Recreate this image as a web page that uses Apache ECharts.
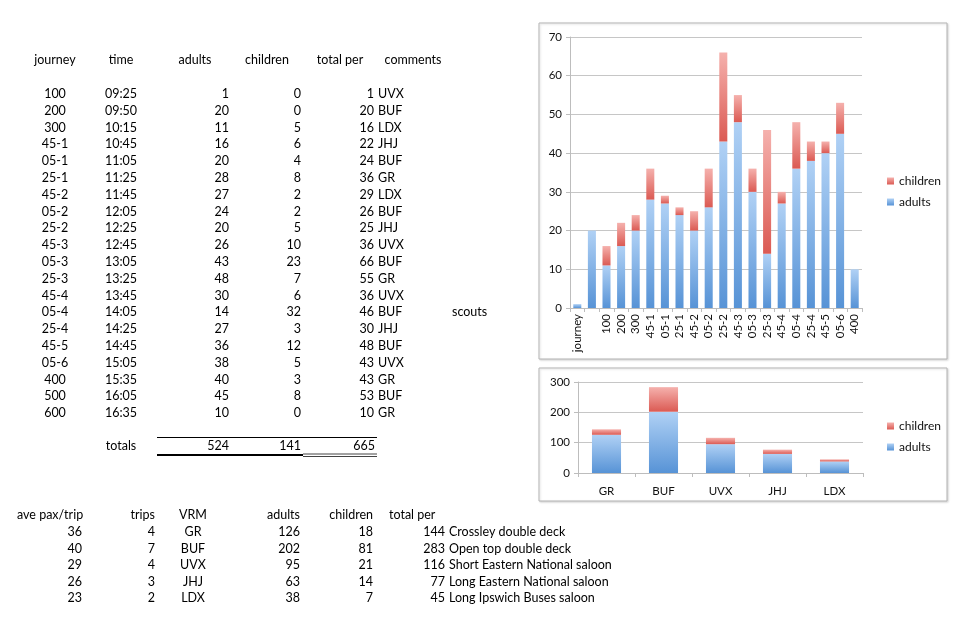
<!DOCTYPE html>
<html>
<head>
<meta charset="utf-8">
<script src="https://cdn.jsdelivr.net/npm/echarts@6/dist/echarts.min.js"></script>
<style>
html,body{margin:0;padding:0;background:#fff;}
#main{width:960px;height:625px;}
</style>
</head>
<body>
<div id="main"></div>
<script>
// ---- table data (journeys) ----
var journeys = ["100","200","300","45-1","05-1","25-1","45-2","05-2","25-2","45-3","05-3","25-3","45-4","05-4","25-4","45-5","05-6","400","500","600"];
var times = ["09:25","09:50","10:15","10:45","11:05","11:25","11:45","12:05","12:25","12:45","13:05","13:25","13:45","14:05","14:25","14:45","15:05","15:35","16:05","16:35"];
var adults = [1,20,11,16,20,28,27,24,20,26,43,48,30,14,27,36,38,40,45,10];
var children = [0,0,5,6,4,8,2,2,5,10,23,7,6,32,3,12,5,3,8,0];
var totalPer = [1,20,16,22,24,36,29,26,25,36,66,55,36,46,30,48,43,43,53,10];
var comments = ["UVX","BUF","LDX","JHJ","BUF","GR","LDX","BUF","JHJ","UVX","BUF","GR","UVX","BUF","JHJ","BUF","UVX","GR","BUF","GR"];
var totals = ["524","141","665"];
var tableHeaders = ["journey","time","adults","children","total per","comments"];

// ---- top chart ----
var chartCategories = ["journey","","100","200","300","45-1","05-1","25-1","45-2","05-2","25-2","45-3","05-3","25-3","45-4","05-4","25-4","45-5","05-6","400"];
var chartAdults = [1,20,11,16,20,28,27,24,20,26,43,48,30,14,27,36,38,40,45,10];
var chartChildren = [0,0,5,6,4,8,2,2,5,10,23,7,6,32,3,12,5,3,8,0];

// ---- summary table / bottom chart ----
var vrm = ["GR","BUF","UVX","JHJ","LDX"];
var avePax = [36,40,29,26,23];
var trips = [4,7,4,3,2];
var vrmAdults = [126,202,95,63,38];
var vrmChildren = [18,81,21,14,7];
var vrmTotal = [144,283,116,77,45];
var vrmDesc = ["Crossley double deck","Open top double deck","Short Eastern National saloon","Long Eastern National saloon","Long Ipswich Buses saloon"];
var summaryHeaders = ["ave pax/trip","trips","VRM","adults","children","total per"];

var FONT = '12.5px Lato';
var TXT = '#000';
function T(text, x, y, align) {
  return {type:'text', z:10, style:{text:String(text), x:x, y:y, font:FONT, fill:TXT, textAlign:align||'left', textVerticalAlign:'middle'}};
}
var g = [];
// frames
g.push({type:'rect', z:0, shape:{x:539,y:23,width:408,height:336}, style:{fill:'#fff', stroke:'#b5b5b5', lineWidth:1, shadowColor:'rgba(0,0,0,0.15)', shadowBlur:2, shadowOffsetX:1, shadowOffsetY:1}});
g.push({type:'rect', z:0, shape:{x:539,y:368,width:408,height:133}, style:{fill:'#fff', stroke:'#b5b5b5', lineWidth:1, shadowColor:'rgba(0,0,0,0.15)', shadowBlur:2, shadowOffsetX:1, shadowOffsetY:1}});

// top table header
var hx = [55,121,195,267,340,413];
tableHeaders.forEach(function(h,i){ g.push(T(h, hx[i], 60, 'center')); });
for (var i=0;i<journeys.length;i++){
  var y = 94 + i*16.8;
  g.push(T(journeys[i],55,y,'center'));
  g.push(T(times[i],121,y,'center'));
  g.push(T(adults[i],229,y,'right'));
  g.push(T(children[i],301,y,'right'));
  g.push(T(totalPer[i],374,y,'right'));
  g.push(T(comments[i],378,y,'left'));
}
// totals
g.push(T('totals',121,446,'center'));
g.push(T(totals[0],229,446,'right'));
g.push(T(totals[1],301,446,'right'));
g.push(T(totals[2],375,446,'right'));
g.push({type:'line', z:10, shape:{x1:157,y1:437.5,x2:377,y2:437.5}, style:{stroke:'#000',lineWidth:1}});
g.push({type:'line', z:10, shape:{x1:157,y1:455,x2:303,y2:455}, style:{stroke:'#000',lineWidth:2}});
g.push({type:'line', z:10, shape:{x1:303,y1:454,x2:377,y2:454}, style:{stroke:'#444',lineWidth:1}});
g.push({type:'line', z:10, shape:{x1:303,y1:456.5,x2:377,y2:456.5}, style:{stroke:'#444',lineWidth:1}});
// scouts
g.push(T('scouts',452,312,'left'));

// summary table
g.push(T(summaryHeaders[0],17,515,'left'));
g.push(T(summaryHeaders[1],155,515,'right'));
g.push(T(summaryHeaders[2],193,515,'center'));
g.push(T(summaryHeaders[3],300,515,'right'));
g.push(T(summaryHeaders[4],373,515,'right'));
g.push(T(summaryHeaders[5],389,515,'left'));
for (var j=0;j<vrm.length;j++){
  var yy = 532 + j*16.6;
  g.push(T(avePax[j],82,yy,'right'));
  g.push(T(trips[j],155,yy,'right'));
  g.push(T(vrm[j],193,yy,'center'));
  g.push(T(vrmAdults[j],300,yy,'right'));
  g.push(T(vrmChildren[j],373,yy,'right'));
  g.push(T(vrmTotal[j],445,yy,'right'));
  g.push(T(vrmDesc[j],449,yy,'left'));
}

var blue = new echarts.graphic.LinearGradient(0,0,0,1,[{offset:0,color:'#b0d1f5'},{offset:1,color:'#5793d6'}]);
var red = new echarts.graphic.LinearGradient(0,0,0,1,[{offset:0,color:'#f5b1ad'},{offset:1,color:'#db5a53'}]);
var axisGrey = '#bdbdbd';

var chart = echarts.init(document.getElementById('main'), null, {renderer:'canvas'});
chart.setOption({
  animation:false,
  backgroundColor:'#fff',
  textStyle:{fontFamily:'Lato'},
  graphic:{elements:g},
  grid:[
    {left:570, top:37, width:292, height:271},
    {left:578, top:382, width:285, height:91}
  ],
  legend:[
    {data:['children','adults'], orient:'vertical', left:882, top:170, itemWidth:7, itemHeight:7, itemGap:9, icon:'rect', textStyle:{color:'#111', fontSize:12, fontFamily:'Lato'}, selectedMode:false},
    {data:['children','adults'], orient:'vertical', left:882, top:415, itemWidth:7, itemHeight:7, itemGap:9, icon:'rect', textStyle:{color:'#111', fontSize:12, fontFamily:'Lato'}, selectedMode:false}
  ],
  xAxis:[
    {type:'category', gridIndex:0, data:chartCategories, boundaryGap:true,
     axisLine:{lineStyle:{color:axisGrey}}, axisTick:{show:true, length:4, lineStyle:{color:axisGrey}},
     axisLabel:{rotate:90, margin:6, interval:0, color:'#111', fontFamily:'Lato', fontSize:11.5}},
    {type:'category', gridIndex:1, data:vrm, boundaryGap:true,
     axisLine:{lineStyle:{color:axisGrey}}, axisTick:{show:true, length:4, lineStyle:{color:axisGrey}},
     axisLabel:{margin:12, interval:0, color:'#111', fontFamily:'Lato', fontSize:11.5}}
  ],
  yAxis:[
    {type:'value', gridIndex:0, min:0, max:70, interval:10,
     axisLine:{show:true, lineStyle:{color:axisGrey}}, axisTick:{show:true, length:4, lineStyle:{color:axisGrey}},
     splitLine:{lineStyle:{color:'#c6c6c6'}}, axisLabel:{margin:8, color:'#111', fontFamily:'Lato', fontSize:11.5}},
    {type:'value', gridIndex:1, min:0, max:300, interval:100,
     axisLine:{show:true, lineStyle:{color:axisGrey}}, axisTick:{show:true, length:4, lineStyle:{color:axisGrey}},
     splitLine:{lineStyle:{color:'#c6c6c6'}}, axisLabel:{margin:8, color:'#111', fontFamily:'Lato', fontSize:11.5}}
  ],
  series:[
    {name:'adults', type:'bar', stack:'top', xAxisIndex:0, yAxisIndex:0, data:chartAdults, barWidth:'55%', itemStyle:{color:blue}},
    {name:'children', type:'bar', stack:'top', xAxisIndex:0, yAxisIndex:0, data:chartChildren, barWidth:'55%', itemStyle:{color:red}},
    {name:'adults', type:'bar', stack:'bot', xAxisIndex:1, yAxisIndex:1, data:vrmAdults, barWidth:'51%', itemStyle:{color:blue}},
    {name:'children', type:'bar', stack:'bot', xAxisIndex:1, yAxisIndex:1, data:vrmChildren, barWidth:'51%', itemStyle:{color:red}}
  ]
});
</script>
</body>
</html>
